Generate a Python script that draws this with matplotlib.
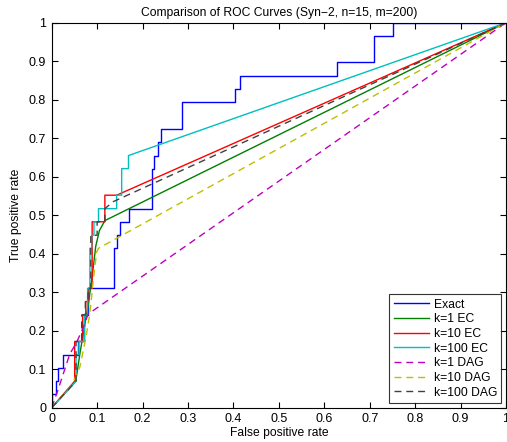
import matplotlib
matplotlib.use("Agg")
import matplotlib.pyplot as plt

plt.rcParams['font.family'] = ['Liberation Sans', 'DejaVu Sans']

# Exact (blue)
exact_x = [0, 0, 0.0103, 0.0103, 0.0146, 0.0146, 0.0256, 0.0256, 0.0586, 0.0586, 0.0718, 0.0718,
           0.0806, 0.0806, 0.137, 0.137, 0.143, 0.143, 0.150, 0.150, 0.171, 0.171, 0.220, 0.220,
           0.225, 0.225, 0.2347, 0.2347, 0.2406, 0.2406, 0.286, 0.286, 0.404, 0.404, 0.4145, 0.4145,
           0.629, 0.629, 0.710, 0.710, 0.752, 0.752, 1.0]
exact_y = [0, 0.0345, 0.0345, 0.069, 0.069, 0.103, 0.103, 0.138, 0.138, 0.172, 0.172, 0.241,
           0.241, 0.310, 0.310, 0.414, 0.414, 0.448, 0.448, 0.483, 0.483, 0.517, 0.517, 0.621,
           0.621, 0.655, 0.655, 0.690, 0.690, 0.724, 0.724, 0.793, 0.793, 0.828, 0.828, 0.862,
           0.862, 0.897, 0.897, 0.966, 0.966, 1.0, 1.0]

# k=1 EC (green)
ec1_x = [0, 0.053, 0.062, 0.072, 0.082, 0.090, 0.097, 0.105, 0.117, 1.0]
ec1_y = [0, 0.069, 0.14, 0.21, 0.28, 0.35, 0.42, 0.46, 0.486, 1.0]

# k=10 EC (red)
ec10_x = [0, 0.0505, 0.0505, 0.068, 0.068, 0.075, 0.075, 0.081, 0.081, 0.089, 0.089, 0.117, 0.117, 0.143, 1.0]
ec10_y = [0, 0.069, 0.172, 0.172, 0.241, 0.241, 0.276, 0.276, 0.310, 0.310, 0.483, 0.483, 0.552, 0.552, 1.0]

# k=100 EC (cyan)
ec100_x = [0, 0.0535, 0.0535, 0.060, 0.060, 0.072, 0.072, 0.079, 0.079, 0.084, 0.084, 0.088, 0.088,
           0.093, 0.093, 0.103, 0.103, 0.143, 0.143, 0.154, 0.154, 0.169, 0.169, 1.0]
ec100_y = [0, 0.069, 0.138, 0.138, 0.172, 0.172, 0.241, 0.241, 0.310, 0.310, 0.414, 0.414, 0.448,
           0.448, 0.483, 0.483, 0.517, 0.517, 0.552, 0.552, 0.621, 0.621, 0.655, 1.0]

# k=1 DAG (magenta dashed)
dag1_x = [0, 0.012, 0.040, 0.055, 0.070, 0.080, 1.0]
dag1_y = [0, 0.040, 0.140, 0.170, 0.210, 0.243, 1.0]

# k=10 DAG (yellow dashed)
dag10_x = [0, 0.045, 0.062, 0.075, 0.084, 0.0916, 0.099, 0.103, 1.0]
dag10_y = [0, 0.060, 0.106, 0.180, 0.245, 0.332, 0.405, 0.414, 1.0]

# k=100 DAG (dark gray dashed)
dag100_x = [0, 0.0535, 0.0535, 0.066, 0.066, 0.074, 0.074, 0.080, 0.080, 0.086, 0.086, 0.100, 0.100, 0.117, 0.117, 0.135, 1.0]
dag100_y = [0, 0.069, 0.172, 0.172, 0.241, 0.241, 0.276, 0.276, 0.310, 0.310, 0.448, 0.448, 0.483, 0.483, 0.517, 0.535, 1.0]

labels = ['Exact', 'k=1 EC', 'k=10 EC', 'k=100 EC', 'k=1 DAG', 'k=10 DAG', 'k=100 DAG']
ticks = [0, 0.1, 0.2, 0.3, 0.4, 0.5, 0.6, 0.7, 0.8, 0.9, 1]
tick_labels = ['0', '0.1', '0.2', '0.3', '0.4', '0.5', '0.6', '0.7', '0.8', '0.9', '1']

fig = plt.figure(figsize=(5.07, 4.42), dpi=100)
ax = fig.add_axes([0.102, 0.0776, 0.896, 0.871])

lw = 1.0
dash = (5, 3.5)
ax.plot(exact_x, exact_y, color='#0000ff', lw=lw, label=labels[0])
ax.plot(ec1_x, ec1_y, color='#007f00', lw=lw, label=labels[1])
ax.plot(ec10_x, ec10_y, color='#ff0000', lw=lw, label=labels[2])
ax.plot(ec100_x, ec100_y, color='#00bfbf', lw=lw, label=labels[3])
ax.plot(dag1_x, dag1_y, color='#bf00bf', lw=lw, ls='--', dashes=dash, label=labels[4])
ax.plot(dag10_x, dag10_y, color='#bfbf00', lw=lw, ls='--', dashes=dash, label=labels[5])
ax.plot(dag100_x, dag100_y, color='#404040', lw=lw, ls='--', dashes=dash, label=labels[6])

ax.set_xlim(0, 1)
ax.set_ylim(0, 1)
ax.set_xticks(ticks)
ax.set_xticklabels(tick_labels)
ax.set_yticks(ticks)
ax.set_yticklabels(tick_labels)
ax.tick_params(direction='in', top=True, right=True, labelsize=9, length=4, width=0.8, pad=4)
for s in ax.spines.values():
    s.set_linewidth(0.8)

ax.set_title('Comparison of ROC Curves (Syn\u22122, n=15, m=200)', fontsize=8.7, pad=5)
ax.set_xlabel('False positive rate', fontsize=8.7, labelpad=1)
ax.set_ylabel('True positive rate', fontsize=8.7, labelpad=5)

leg = ax.legend(loc='lower right', fontsize=8.7, frameon=True, fancybox=False,
                edgecolor='black', handlelength=2.9, handletextpad=0.4,
                borderpad=0.35, labelspacing=0.22, borderaxespad=0.4)
leg.get_frame().set_linewidth(0.8)

fig.savefig('out.png', dpi=100)
